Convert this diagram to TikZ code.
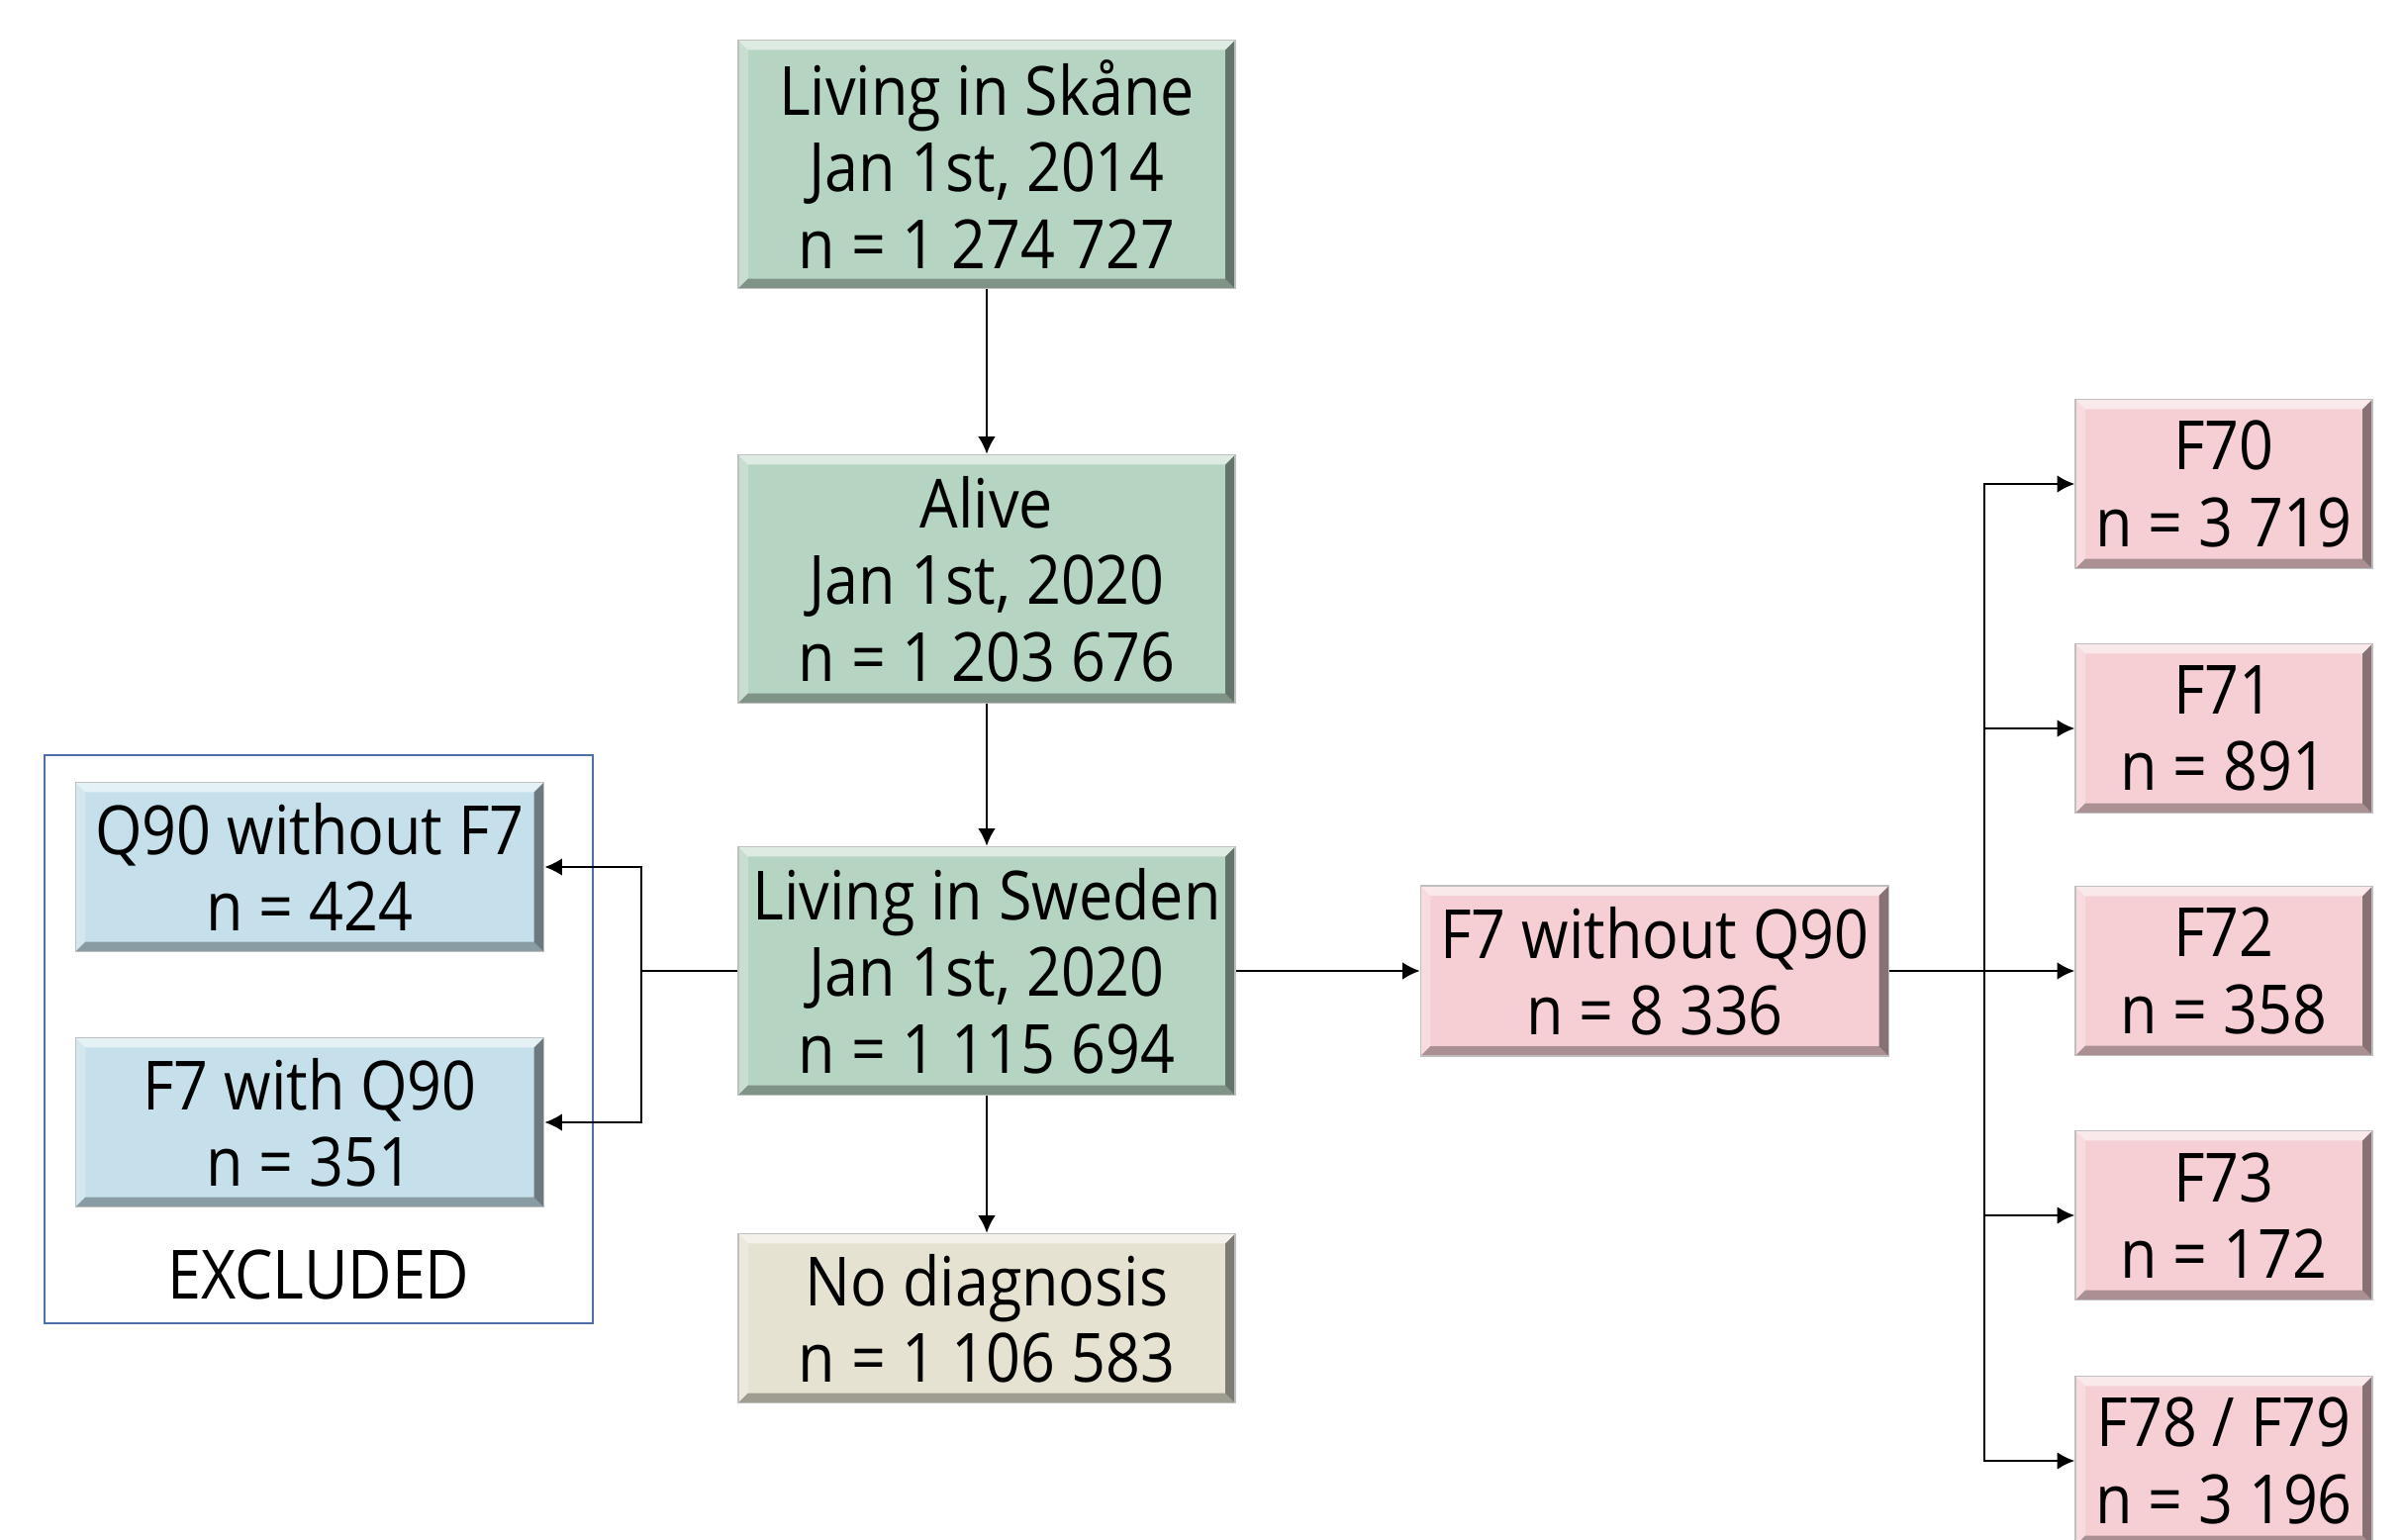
\documentclass[tikz,border=0pt]{standalone}
\usepackage{fontspec}
\setmainfont[FakeStretch=0.89]{Open Sans}
\usetikzlibrary{arrows.meta,positioning}
\definecolor{boxgreen}{HTML}{B6D4C2}
\definecolor{boxblue}{HTML}{C5E0EA}
\definecolor{boxpink}{HTML}{F6CFD4}
\definecolor{boxbeige}{HTML}{E5E2D2}
\definecolor{framecol}{HTML}{4F6FAA}
\newcommand{\bv}{0.1cm}
\tikzset{
  bevelled/.style={path picture={
    \path (path picture bounding box.north west) coordinate (bnw)
          (path picture bounding box.south east) coordinate (bse);
    \fill[white,opacity=.55] (bnw) -- (bse |- bnw) -- ([shift={(-\bv,-\bv)}]bse |- bnw) -- ([shift={(\bv,-\bv)}]bnw) -- cycle;
    \fill[white,opacity=.25] (bnw) -- ([shift={(\bv,-\bv)}]bnw) -- ([shift={(\bv,\bv)}]bnw |- bse) -- (bnw |- bse) -- cycle;
    \fill[black,opacity=.3] (bnw |- bse) -- ([shift={(\bv,\bv)}]bnw |- bse) -- ([shift={(-\bv,\bv)}]bse) -- (bse) -- cycle;
    \fill[black,opacity=.45] (bse |- bnw) -- (bse) -- ([shift={(-\bv,\bv)}]bse) -- ([shift={(-\bv,-\bv)}]bse |- bnw) -- cycle;
  }},
  cohort/.style={bevelled, draw=black!25, line width=0.4pt, fill=#1, align=center,
    inner sep=0pt, font=\fontsize{19.5}{22}\selectfont},
  mainbox/.style={cohort=#1, minimum width=5.02cm, minimum height=2.51cm},
  exclbox/.style={cohort=boxblue, minimum width=4.73cm, minimum height=1.71cm},
  subbox/.style={cohort=boxpink, minimum width=3cm, minimum height=1.71cm},
  flow/.style={-{Latex[length=5pt,width=5pt]}, line width=0.6pt},
}
\begin{document}
\begin{tikzpicture}[x=0.01cm,y=-0.01cm]
  \useasboundingbox (0,0) rectangle (2428,1555);
  % Node: skane
  \node[mainbox=boxgreen] (skane) at (997,166) {Living in Skåne\\Jan 1st, 2014\\n = 1 274 727};
  % Node: alive
  \node[mainbox=boxgreen] (alive) at (997,585) {Alive\\Jan 1st, 2020\\n = 1 203 676};
  % Node: sweden
  \node[mainbox=boxgreen] (sweden) at (997,981) {Living in Sweden\\Jan 1st, 2020\\n = 1 115 694};
  % Node: nodiag
  \node[mainbox=boxbeige, minimum height=1.71cm] (nodiag) at (997,1332) {No diagnosis\\n = 1 106 583};
  % Node: excluded
  \node[draw=framecol, line width=0.6pt, minimum width=5.53cm, minimum height=5.73cm] (excl) at (322,1050) {};
  \node[exclbox] (q90) at (313,876) {Q90 without F7\\n = 424};
  \node[exclbox] (f7q) at (313,1134) {F7 with Q90\\n = 351};
  \node[font=\fontsize{19.5}{22}\selectfont] (excltext) at (322,1288) {EXCLUDED};
  % Node: f7
  \node[cohort=boxpink, minimum width=4.73cm, minimum height=1.72cm] (f7) at (1672,981) {F7 without Q90\\n = 8 336};
  % Node: subgroups
  \node[subbox] (f70) at (2247,489) {F70\\n = 3 719};
  \node[subbox] (f71) at (2247,736) {F71\\n = 891};
  \node[subbox] (f72) at (2247,981) {F72\\n = 358};
  \node[subbox] (f73) at (2247,1228) {F73\\n = 172};
  \node[subbox] (f78) at (2247,1476) {F78 / F79\\n = 3 196};
  % Edge: skane -> alive -> sweden -> nodiag
  \draw[flow] (skane) -- (alive);
  \draw[flow] (alive) -- (sweden);
  \draw[flow] (sweden) -- (nodiag);
  % Edge: sweden -> q90, f7q
  \draw[line width=0.6pt] (sweden.west) -- ++(-97,0) coordinate (lsplit);
  \draw[flow] (lsplit) |- (q90.east);
  \draw[flow] (lsplit) |- (f7q.east);
  % Edge: sweden -> f7
  \draw[flow] (sweden) -- (f7);
  % Edge: f7 -> subgroups
  \draw[line width=0.6pt] (f7.east) -- ++(96,0) coordinate (rsplit);
  \foreach \sub in {f70,f71,f72,f73,f78}
    \draw[flow] (rsplit) |- (\sub.west);
\end{tikzpicture}
\end{document}
